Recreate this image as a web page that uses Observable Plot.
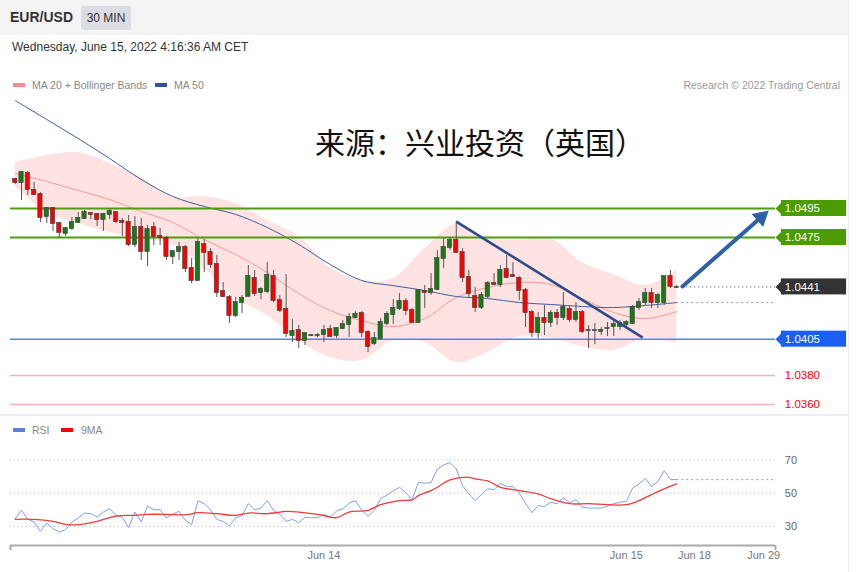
<!DOCTYPE html>
<html><head><meta charset="utf-8">
<script src="https://cdn.jsdelivr.net/npm/d3@7"></script>
<script src="https://cdn.jsdelivr.net/npm/@observablehq/plot@0.6"></script>
<style>
body{margin:0;background:#fff;font-family:"Liberation Sans",Arial,sans-serif;}
#wrap{position:relative;width:863px;height:572px;overflow:hidden;background:#fff;}
.abs{position:absolute;white-space:nowrap;}
#hdr{left:0;top:0;width:848px;height:35px;background:#f4f4f5;}
#pair{left:10px;top:9px;font-size:14px;font-weight:bold;color:#333;}
#tf{left:81px;top:6px;width:50px;height:24px;line-height:24px;text-align:center;background:#dcdde2;font-size:12px;color:#333;border-radius:2px;}
#date{left:12px;top:40px;font-size:12px;color:#333;}
.leg{font-size:10.5px;color:#888;top:79px;}
.sw{position:absolute;width:12px;height:4px;}
#src{left:315px;top:121px;font-size:30px;line-height:40px;color:#111;font-family:"Noto Sans CJK SC",sans-serif;}
#main{left:0;top:95px;}
#rsi{left:0;top:415px;}
#sep{left:0;top:414px;width:848px;height:2px;background:#eceef2;}
#vb{left:848px;top:0;width:1px;height:572px;background:#eceef2;}
</style></head><body>
<div id="wrap">
<div id="hdr" class="abs"></div>
<div id="pair" class="abs">EUR/USD</div>
<div id="tf" class="abs">30 MIN</div>
<div id="date" class="abs">Wednesday, June 15, 2022 4:16:36 AM CET</div>
<div id="main" class="abs"></div>
<div id="rsi" class="abs"></div>
<div id="sep" class="abs"></div>
<div id="vb" class="abs"></div>
<div class="sw" style="left:13px;top:83px;background:#f78a8a"></div>
<div class="abs leg" style="left:32px">MA 20 + Bollinger Bands</div>
<div class="sw" style="left:155px;top:83px;background:#2f5597"></div>
<div class="abs leg" style="left:174px">MA 50</div>
<div class="abs leg" style="right:23px;color:#999">Research © 2022 Trading Central</div>
<div class="sw" style="left:13px;top:428px;background:#5b7fe0"></div>
<div class="abs leg" style="left:32px;top:424px">RSI</div>
<div class="sw" style="left:61px;top:428px;background:#f00"></div>
<div class="abs leg" style="left:81px;top:424px">9MA</div>
<div id="src" class="abs">来源：兴业投资（英国）</div>
</div>
<script>
// ---- data ----
const open = [1.0515,1.05129,1.05191,1.05074,1.05046,1.04895,1.0495,1.04847,1.04778,1.04812,
1.04854,1.04881,1.04916,1.04909,1.04874,1.04909,1.04922,1.0486,1.04854,1.04702,
1.04819,1.04654,1.04819,1.04757,1.04743,1.04619,1.04654,1.04681,1.04537,1.04454,
1.04702,1.04647,1.04564,1.04378,1.04337,1.04213,1.04302,1.04344,1.04468,1.04371,
1.04378,1.04481,1.04316,1.04254,1.04075,1.04109,1.04041,1.04075,1.04075,1.04082,
1.04116,1.04075,1.04123,1.04151,1.04199,1.04227,1.04096,1.0402,1.04054,1.04158,
1.0422,1.04261,1.04309,1.04247,1.04165,1.04378,1.04371,1.04392,1.04606,1.04681,
1.0473,1.04647,1.04475,1.04344,1.04268,1.04344,1.04433,1.04426,1.0453,1.04488,
1.04468,1.04385,1.04233,1.04096,1.04192,1.04165,1.04227,1.04199,1.04254,1.04185,
1.04233,1.04109,1.04109,1.04103,1.04123,1.04137,1.04137,1.04151,1.04158,1.04268,
1.04302,1.04364,1.04302,1.04302,1.04481,1.04406];
const high = [1.05157,1.05205,1.05205,1.05129,1.0506,1.04957,1.04957,1.04854,1.04819,1.04888,
1.04922,1.04936,1.04922,1.04916,1.04916,1.0495,1.04929,1.04881,1.04902,1.04895,
1.04881,1.04833,1.04854,1.04812,1.04757,1.04661,1.04716,1.04695,1.04606,1.04743,
1.04736,1.04674,1.04626,1.0444,1.04351,1.04337,1.04351,1.04557,1.04523,1.04406,
1.04578,1.04523,1.04351,1.04495,1.04185,1.04144,1.04089,1.04082,1.04089,1.04144,
1.04144,1.0413,1.04178,1.04227,1.0424,1.0424,1.04109,1.04096,1.04192,1.0424,
1.04323,1.04364,1.0433,1.04261,1.04392,1.04419,1.04502,1.04661,1.04743,1.0475,
1.0486,1.04674,1.04523,1.04406,1.04371,1.04447,1.04502,1.04557,1.04626,1.04578,
1.04481,1.04399,1.04247,1.04233,1.04282,1.04247,1.04254,1.04371,1.04282,1.04302,
1.04247,1.04144,1.04158,1.0413,1.04165,1.04178,1.04178,1.04178,1.04282,1.0433,
1.04399,1.04399,1.04364,1.04481,1.04523,1.04419];
const low = [1.05115,1.05005,1.0504,1.0504,1.04854,1.04847,1.04792,1.04743,1.04757,1.04798,
1.04847,1.04874,1.04874,1.04826,1.04792,1.04874,1.04847,1.04757,1.04688,1.04681,
1.04592,1.0455,1.04695,1.04695,1.04592,1.04564,1.04592,1.04509,1.04433,1.04454,
1.04509,1.04537,1.04337,1.04337,1.04158,1.04199,1.04227,1.04344,1.04344,1.04323,
1.04364,1.04302,1.04233,1.04061,1.04027,1.03985,1.04006,1.04068,1.04061,1.04027,
1.04068,1.04054,1.04116,1.04061,1.04192,1.04061,1.03958,1.04006,1.04041,1.04144,
1.04151,1.04247,1.04213,1.04165,1.04158,1.04261,1.04351,1.04385,1.04537,1.04661,
1.0464,1.0444,1.04337,1.04233,1.04254,1.0433,1.04419,1.04406,1.04468,1.04475,
1.04316,1.0413,1.04061,1.04054,1.04075,1.0413,1.04144,1.04178,1.04165,1.04165,
1.04089,1.03985,1.04013,1.04075,1.04068,1.04068,1.04109,1.04123,1.04151,1.04247,
1.04282,1.04261,1.04261,1.04282,1.04399,1.04399];
const close = [1.05129,1.05198,1.05081,1.05046,1.04888,1.0495,1.04847,1.04785,1.04812,1.04854,
1.04881,1.04922,1.04909,1.04874,1.04909,1.04929,1.0486,1.04854,1.04702,1.04819,
1.04654,1.04805,1.04757,1.0475,1.04619,1.04654,1.04681,1.04537,1.04454,1.04716,
1.04647,1.04564,1.04371,1.04344,1.04213,1.04302,1.0433,1.04481,1.04364,1.04392,
1.04488,1.04316,1.04247,1.04089,1.04103,1.04041,1.04089,1.04075,1.04075,1.04109,
1.04068,1.04123,1.04151,1.04199,1.0422,1.04096,1.03999,1.04054,1.04165,1.0422,
1.04261,1.04309,1.04247,1.04165,1.04385,1.04371,1.04392,1.04606,1.04681,1.0473,
1.04647,1.04475,1.04364,1.04268,1.04351,1.04433,1.04426,1.04523,1.04475,1.04481,
1.04385,1.04233,1.04096,1.04192,1.04165,1.04227,1.04199,1.04268,1.04185,1.04233,
1.04103,1.04109,1.04109,1.04109,1.04123,1.04151,1.04158,1.04165,1.04268,1.04302,
1.04364,1.04302,1.04351,1.04481,1.04413,1.04406];

// indicator samples (candle index)
const bandIdx = [0,5,10,15,20,25,30,35,40,45,50,55,60,65,70,75,80,85,90,95,100,105];
const bbUpper = [1.05267,1.05315,1.05336,1.0526,1.05164,1.05026,1.05033,1.04984,1.04867,1.04757,1.04543,1.04454,1.04468,1.04674,1.0484,1.04743,1.0473,1.04743,1.04578,1.04495,1.04419,1.04523];
const bbLower = [1.05102,1.04922,1.04847,1.04785,1.04736,1.04702,1.04537,1.0433,1.04213,1.04041,1.03923,1.03903,1.04041,1.04027,1.03889,1.03958,1.04068,1.04054,1.03999,1.03972,1.04054,1.0402];
const ma20 = [1.05191,1.05136,1.05074,1.05012,1.04929,1.04854,1.04736,1.04633,1.04509,1.04364,1.04247,1.04178,1.04137,1.04192,1.04337,1.04406,1.0444,1.04426,1.0433,1.04233,1.04192,1.0424];
const ma50 = [1.05694,1.05563,1.05432,1.05294,1.0515,1.05033,1.04964,1.04909,1.04819,1.04702,1.04564,1.04454,1.04419,1.04385,1.04344,1.0433,1.04302,1.04289,1.04275,1.04268,1.04282,1.04302];

const rsi = [34.7,39.7,34.3,32.7,27.1,32.1,28.7,26.7,28.1,32.7,
35.1,38.1,37.7,35.7,38.7,40.7,36.7,35.7,29.3,38.7,
32.7,42.2,40.1,40.1,35.1,37.5,39.1,33.7,31.1,45.5,
43.7,40.1,34.3,33.1,30.3,35.1,36.7,43.7,40.1,41.1,
45.6,39.7,37.3,33.1,34.3,32.3,35.5,35.3,35.3,37.3,
35.7,39.3,40.7,44.0,45.5,39.7,36.1,39.7,46.7,49.0,
51.4,53.6,50.2,46.2,56.6,56.0,56.4,64.6,67.0,68.5,
64.6,54.6,49.6,45.6,49.2,52.6,52.2,56.0,54.0,54.0,
50.2,44.0,38.3,42.6,42.0,44.6,43.7,47.3,44.3,46.1,
41.6,41.1,41.1,41.1,42.2,43.7,44.6,45.1,53.1,55.6,
59.0,54.0,57.0,63.6,58.2,58.2];
const ma9Idx = [0,3,6,8,10,13,16,19,21,24,27,29,32,35,37,40,43,45,48,51,53,56,58,61,63,64,66,67,69,72,73,75,77,80,83,85,88,91,94,97,99,101,103,105];
const ma9 = [34.3,34.3,33.1,31.3,31.1,33.1,36.3,36.7,37.3,37.3,37,38.3,37.7,36.7,38.1,37.7,39.1,38.7,37.3,35.3,38.7,39.7,43.1,45.6,46,48.6,51.6,53.6,58,59.6,58.6,57.4,53.6,51.6,49.6,46.7,43.7,43.7,43.1,43.1,45.6,49.2,52.6,55.6];
const rsiLevels = [70, 50, 30];

const boxedLevels = [1.0495, 1.0475, 1.0441, 1.0405];
const boxedColors = ["#4a9c00", "#4a9c00", "#333333", "#1a5ef7"];
const redLevels = [1.0380, 1.0360];
const greenLevels = [1.0495, 1.0475];
const blueLevel = 1.0405;
const lastPrice = 1.0441;
const trend = {x1: 70, y1: 1.0486, x2: 99.6, y2: 1.04061};
const arrowPts = {x1: 105.9, y1: 1.04413, x2: 119.6, y2: 1.04936};

const tickPos = [49, 97, 107.8, 118.8];
const tickLabels = ["Jun 14", "Jun 15", "Jun 18", "Jun 29"];

// ---- build ----
const xDomain = [-0.75, 120.67];
const yDomain = [1.035243, 1.057283];
const xEnd = xDomain[1];
const candles = open.map((o, i) => ({i, o, h: high[i], l: low[i], c: close[i]}));
const band = bandIdx.map((i, k) => ({i, up: bbUpper[k], lo: bbLower[k], m20: ma20[k], m50: ma50[k]}));
const boxed = boxedLevels.map((v, k) => ({v, c: boxedColors[k]}));
const candleColor = d => d.c > d.o ? "#177a17" : d.c < d.o ? "#ff0000" : "#555";

const W = 863, ML = 10, MR = 88, H = 320;
const kx = (W - ML - MR) / (xDomain[1] - xDomain[0]);
const ky = H / (yDomain[1] - yDomain[0]);
const adx = (arrowPts.x2 - arrowPts.x1) * kx, ady = -(arrowPts.y2 - arrowPts.y1) * ky;
const alen = Math.hypot(adx, ady), ux = adx / alen, uy = ady / alen;
const rot = Math.atan2(ux, -uy) * 180 / Math.PI;
const triR = 6.5;
const tipDist = 2 * Math.sqrt(Math.PI * triR * triR / (3 * Math.sqrt(3)));

const main = Plot.plot({
  width: W, height: H, marginLeft: ML, marginRight: MR, marginTop: 0, marginBottom: 0,
  style: {fontFamily: "Liberation Sans, Arial, sans-serif", overflow: "visible", background: "transparent"},
  x: {domain: xDomain, axis: null},
  y: {domain: yDomain, axis: null},
  color: {type: "identity"},
  marks: [
    Plot.areaY(band, {x: "i", y1: "lo", y2: "up", fill: "#ffe2e2", curve: "catmull-rom"}),
    Plot.line(band, {x: "i", y: "m20", stroke: "#f59a9a", strokeWidth: 1, curve: "catmull-rom"}),
    Plot.line(band, {x: "i", y: "m50", stroke: "#3d5fa5", strokeWidth: 1, curve: "catmull-rom"}),
    Plot.ruleY([ma50[ma50.length - 1]], {x1: 105, x2: xEnd, stroke: "#7598d8", strokeWidth: 1, strokeDasharray: "2 3"}),
    Plot.ruleY(redLevels, {stroke: "#f6b3b3", strokeWidth: 1.5}),
    Plot.ruleY([blueLevel], {stroke: "#4f86f0", strokeWidth: 1.5}),
    Plot.ruleY(greenLevels, {stroke: "#4d9d10", strokeWidth: 2}),
    Plot.ruleY([lastPrice], {x1: 105.9, x2: xEnd, stroke: "#888", strokeWidth: 1.3, strokeDasharray: "1.3 2.7"}),
    Plot.ruleX(candles, {x: "i", y1: "l", y2: "h", stroke: "#555", strokeWidth: 1}),
    Plot.rect(candles, {x1: d => d.i - 0.34, x2: d => d.i + 0.34, y1: "o", y2: "c", fill: candleColor, stroke: "#3a3a3a", strokeWidth: 0.6, insetTop: -0.5, insetBottom: -0.5}),
    Plot.link([trend], {x1: "x1", y1: "y1", x2: "x2", y2: "y2", stroke: "#2c4b8c", strokeWidth: 2.6}),
    Plot.arrow([arrowPts], {x1: "x1", y1: "y1", x2: "x2", y2: "y2", stroke: "#2f62a5", strokeWidth: 4, headLength: 0, insetEnd: 9}),
    Plot.dot([arrowPts], {x: "x2", y: "y2", symbol: "triangle", r: triR, fill: "#2f62a5", rotate: rot, dx: -ux * tipDist, dy: -uy * tipDist}),
    Plot.rect(boxed, {x1: 121.6, x2: 131.95, y1: "v", y2: "v", insetTop: -8, insetBottom: -8, fill: "c"}),
    Plot.dot(boxed, {x: 121.95, y: "v", symbol: "diamond2", r: 7.2, fill: "c"}),
    Plot.text(boxed, {x: 122.15, y: "v", text: d => d.v.toFixed(4), textAnchor: "start", fill: "white", fontSize: 11.5}),
    Plot.text(redLevels, {x: 122.15, y: d => d, text: d => d.toFixed(4), textAnchor: "start", fill: "#f00", fontSize: 11.5})
  ]
});
document.getElementById("main").append(main);

const rH = 157, rMB = 27;
const rDomain = [18.57, 96.77];
const rk = (rH - rMB) / (rDomain[1] - rDomain[0]);
const ends = [xDomain[0], xDomain[1]];
const ticks = tickPos.map((p, k) => ({p, t: tickLabels[k]}));
const ma9Data = ma9Idx.map((i, k) => ({i, v: ma9[k]}));
const rsiPlot = Plot.plot({
  width: W, height: rH, marginLeft: ML, marginRight: MR, marginTop: 0, marginBottom: rMB,
  style: {fontFamily: "Liberation Sans, Arial, sans-serif", overflow: "visible", background: "transparent"},
  x: {domain: xDomain, axis: null},
  y: {domain: rDomain, axis: null},
  marks: [
    Plot.ruleY(rsiLevels, {stroke: "#bdbdbd", strokeWidth: 1, strokeDasharray: "1 3"}),
    Plot.text(rsiLevels, {x: 122.15, y: d => d, text: d => String(d), textAnchor: "start", fill: "#666", fontSize: 11}),
    Plot.line(rsi, {x: (d, i) => i, y: d => d, stroke: "#7f9ef0", strokeWidth: 1}),
    Plot.ruleY([rsi[rsi.length - 1]], {x1: rsi.length - 1, x2: xEnd, stroke: "#7f9ef0", strokeWidth: 1, strokeDasharray: "2 3"}),
    Plot.line(ma9Data, {x: "i", y: "v", stroke: "#f23a3a", strokeWidth: 1.3, curve: "catmull-rom"}),
    Plot.ruleY([rDomain[0]], {stroke: "#aaa", strokeWidth: 2}),
    Plot.ruleX(ends, {y1: rDomain[0], y2: rDomain[0] - 5 / rk, stroke: "#aaa", strokeWidth: 2}),
    Plot.text(ticks, {x: "p", frameAnchor: "bottom", dy: 13, text: "t", fill: "#777", fontSize: 11})
  ]
});
document.getElementById("rsi").append(rsiPlot);
</script>
</body></html>
